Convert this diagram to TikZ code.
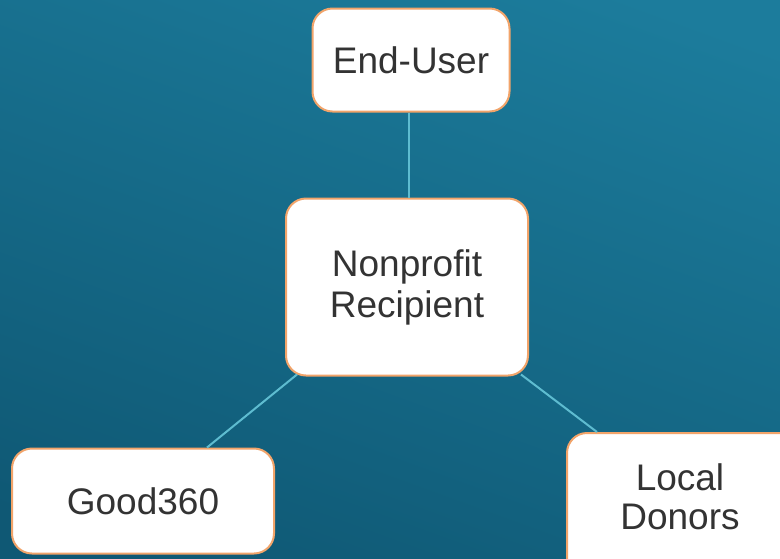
\documentclass[tikz,border=0pt]{standalone}
\usepackage{fontspec}
\setmainfont{Liberation Sans}
\begin{document}
\begin{tikzpicture}[x=1pt,y=-1pt,
  box/.style={draw=boxedge, line width=2pt, fill=white, rounded corners=20pt,
    text=textgray, font=\fontsize{37}{41}\selectfont, align=center,
    inner sep=0pt, anchor=center},
  link/.style={draw=linkcyan, line width=2pt}]
\definecolor{boxedge}{HTML}{F2A46A}
\definecolor{textgray}{HTML}{333333}
\definecolor{linkcyan}{HTML}{5EBCD0}
\definecolor{bgtop}{HTML}{1C7C9C}
\definecolor{bgbot}{HTML}{0F5874}
\useasboundingbox (0,0) rectangle (780,558);
\clip (0,0) rectangle (780,558);
\shade[top color=bgtop, bottom color=bgbot, shading angle=-20] (-40,-40) rectangle (820,600);
\node[box, minimum width=197pt, minimum height=103pt] (enduser) at (411,60) {End-User};
\node[box, minimum width=242pt, minimum height=177pt] (nonprofit) at (407,287) {Nonprofit\\Recipient};
\node[box, minimum width=262pt, minimum height=105pt] (good) at (143,501) {Good360};
\node[box, minimum width=250pt, minimum height=166pt] (donors) at (692,516) {\hspace*{-24pt}\raisebox{8pt}[0pt][0pt]{\begin{tabular}{@{}c@{}}Local\\[-2pt]Donors\end{tabular}}};
\draw[link] (enduser.south) ++(-2,0) coordinate (eu) (eu) -- (eu |- nonprofit.north);
\draw[link] (nonprofit.south west) ++(12,-2) coordinate (a1) (a1) -- ([xshift=196pt]good.north west);
\draw[link] (nonprofit.south east) ++(-8,-2) coordinate (a2) (a2) -- ([xshift=31pt]donors.north west);
\end{tikzpicture}
\end{document}
